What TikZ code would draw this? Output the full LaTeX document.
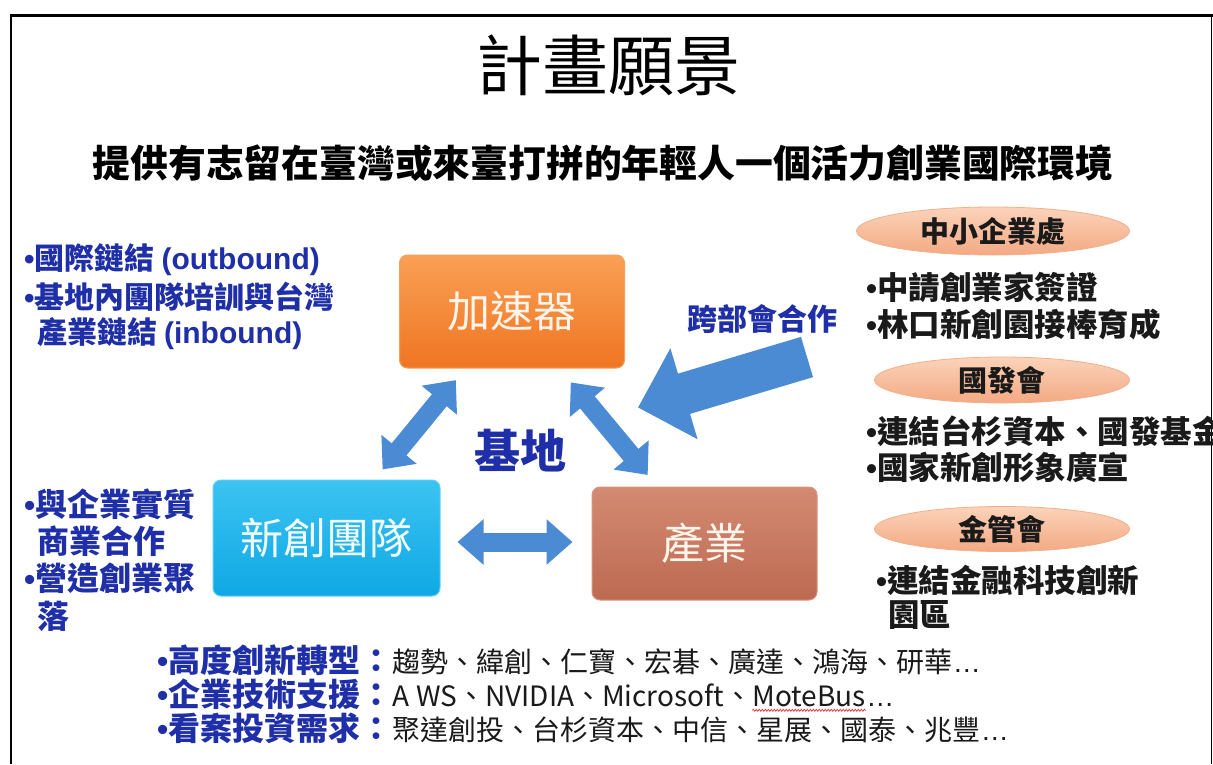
\documentclass[tikz,border=0pt]{standalone}
\usepackage{fontspec}
\setmainfont{Noto Sans CJK TC}
\newfontfamily\latinfont{Liberation Sans}
\newcommand\bul{{\latinfont •}}
\newcommand\myellip{{\latinfont …}}
\usetikzlibrary{arrows.meta,shapes.geometric,decorations.pathmorphing,calc}
\definecolor{navy}{HTML}{1F2FA8}
\definecolor{arrowblue}{HTML}{4A8BD3}
\definecolor{accTop}{HTML}{F9A055}
\definecolor{accBot}{HTML}{EF7522}
\definecolor{accEdge}{HTML}{F2A060}
\definecolor{stTop}{HTML}{3CC3F2}
\definecolor{stBot}{HTML}{0FA8E4}
\definecolor{stEdge}{HTML}{5FCFF5}
\definecolor{inTop}{HTML}{D38A72}
\definecolor{inBot}{HTML}{BE6A52}
\definecolor{inEdge}{HTML}{D9957F}
\definecolor{elTop}{HTML}{FBD3BA}
\definecolor{elBot}{HTML}{F3A983}
\definecolor{elEdge}{HTML}{F2B08A}
\definecolor{darktext}{HTML}{1A1A1A}
\definecolor{spellred}{HTML}{E03030}
\tikzset{
  fs/.style={font=\fontsize{#1}{#1}\selectfont},
  bfs/.style={font=\fontsize{#1}{#1}\selectfont\bfseries},
  txt/.style={inner sep=0pt, anchor=west},
  chain/.style={inner sep=0pt, anchor=base west, text=darktext, fs=28},
  bluetxt/.style={txt, text=navy, bfs=#1},
  blacktxt/.style={txt, text=darktext, bfs=#1},
  mainbox/.style={rectangle, rounded corners=8pt, inner sep=0pt,
    minimum width=225pt, minimum height=113pt, line width=1pt,
    fs=43},
  agency/.style={ellipse, inner sep=0pt, line width=0.8pt, draw=elEdge,
    top color=elTop, bottom color=elBot, text=darktext, bfs=29},
  dblarrow/.style={draw=arrowblue, line width=19pt,
    {Triangle[width=44pt,length=26pt]}-{Triangle[width=44pt,length=26pt]}},
  bigarrow/.style={draw=arrowblue, line width=42pt,
    -{Triangle[width=92pt,length=48pt]}},
}
\begin{document}
\begin{tikzpicture}[x=1pt,y=-1pt]
\useasboundingbox (0,0) rectangle (1213,764);
\clip (0,0) rectangle (1213,764);
\fill[white] (0,0) rectangle (1213,764);

% frame
\draw[line width=3pt] (9.5,15.5) -- (1213,15.5);
\draw[line width=2.5pt] (11,15) -- (11,764);
\draw[line width=1.5pt] (1211.5,15) -- (1211.5,764);

% title and subtitle
\node[inner sep=0pt, fs=66] (title) at (608,65) {計畫願景};
\node[inner sep=0pt, bfs=37.8] (sub) at (603,163)
  {提供有志留在臺灣或來臺打拼的年輕人一個活力創業國際環境};

% main boxes
\node[mainbox, draw=accEdge, top color=accTop, bottom color=accBot,
  text=white!92!orange] (acc) at (512,311.5) {加速器};
\node[mainbox, minimum width=227pt, minimum height=116pt, draw=stEdge,
  top color=stTop, bottom color=stBot, text=white!95!cyan] (start) at (326.5,538) {新創團隊};
\node[mainbox, draw=inEdge, top color=inTop, bottom color=inBot,
  text=white!92!orange] (ind) at (704.5,543.5) {產業};

% connectors
\draw[dblarrow, shorten <=15pt, shorten >=13pt] (acc) -- (start);
\draw[dblarrow, shorten <=18pt, shorten >=15pt] (acc) -- (ind);
\draw[dblarrow] ($(start.east)+(17,4)$) -- ($(ind.west)+(-19,-1.5)$);
\coordinate (crossTail) at (807,357);
\draw[bigarrow] (crossTail) -- ($(acc.south east)+(13,39)$);

% center labels
\node[inner sep=0pt, text=navy, bfs=46] (base) at (520,451) {基地};
\node[inner sep=0pt, text=navy, bfs=30] (cross) at (762,319) {跨部會合作};

% left texts
\node[bluetxt=30] (lt1) at (24,260) {\bul 國際鏈結 {\latinfont(outbound)}};
\node[bluetxt=30] (lt2) at (24,297) {\bul 基地內團隊培訓與台灣};
\node[bluetxt=30] (lt3) at (37,334) {產業鏈結 {\latinfont(inbound)}};
\node[bluetxt=32] (lb1) at (24,504) {\bul 與企業實質};
\node[bluetxt=32] (lb2) at (37,541) {商業合作};
\node[bluetxt=32] (lb3) at (24,578) {\bul 營造創業聚};
\node[bluetxt=32] (lb4) at (37,616) {落};

% right side
\node[agency, minimum width=273pt, minimum height=48pt] (e1) at (993,231) {中小企業處};
\node[blacktxt=31.5] (r1) at (866,287) {\bul 中請創業家簽證};
\node[blacktxt=31.5] (r2) at (866,324) {\bul 林口新創園接棒育成};
\node[agency, minimum width=255pt, minimum height=46pt] (e2) at (1002,380) {國發會};
\node[blacktxt=31.5] (r3) at (866,431) {\bul 連結台杉資本、國發基金};
\node[blacktxt=31.5] (r4) at (866,467) {\bul 國家新創形象廣宣};
\node[agency, minimum width=255pt, minimum height=45pt] (e3) at (1002,529) {金管會};
\node[blacktxt=31.5] (r5) at (876,580) {\bul 連結金融科技創新};
\node[blacktxt=31.5] (r6) at (888,615) {園區};

% bottom lines
\node[bluetxt=32] (b1l) at (157,660) {\bul 高度創新轉型：};
\node[chain] (b1t) at (b1l.base east) {趨勢、緯創、仁寶、宏碁、廣達、鴻海、研華\myellip};
\node[bluetxt=32] (b2l) at (157,694) {\bul 企業技術支援：};
\node[chain] (b2t) at (b2l.base east) {A WS、NVIDIA、Microsoft、};
\node[chain] (b2m) at (b2t.base east) {MoteBus};
\node[chain] (b2e) at (b2m.base east) {\myellip};
\draw[spellred, line width=0.7pt, decorate,
  decoration={snake, amplitude=1pt, segment length=3pt}]
  ($(b2m.base west)+(0,4)$) -- ($(b2m.base east)+(0,4)$);
\node[bluetxt=32] (b3l) at (157,728) {\bul 看案投資需求：};
\node[chain] (b3t) at (b3l.base east) {聚達創投、台杉資本、中信、星展、國泰、兆豐\myellip};
\end{tikzpicture}
\end{document}
